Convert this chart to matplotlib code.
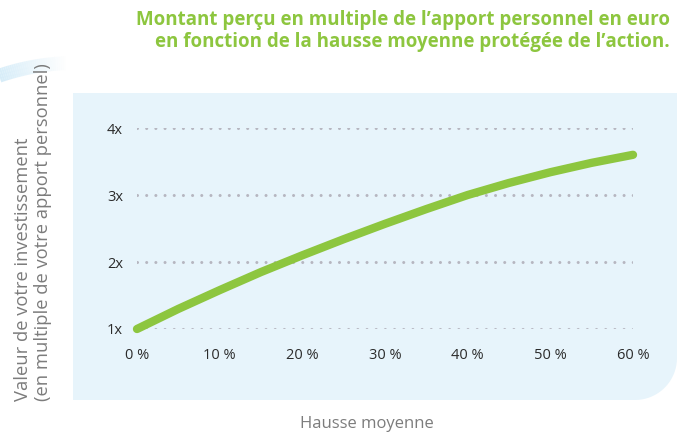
import matplotlib
matplotlib.use("Agg")
import matplotlib.pyplot as plt
import numpy as np
from matplotlib.patches import Polygon
from matplotlib.collections import LineCollection

# data
hausse = [0, 5, 10, 15, 20, 25, 30, 35, 40, 45, 50, 55, 60]
multiple = [1.0, 1.30, 1.58, 1.85, 2.10, 2.34, 2.57, 2.79, 3.00, 3.18, 3.34, 3.48, 3.60]
x_ticks = [0, 10, 20, 30, 40, 50, 60]
x_labels = [f"{v} %" for v in x_ticks]
y_ticks = [1, 2, 3, 4]
y_labels = [f"{v}x" for v in y_ticks]

title = ("Montant perçu en multiple de l’apport personnel en euro\n"
         "en fonction de la hausse moyenne protégée de l’action.")
ylabel = "Valeur de votre investissement\n(en multiple de votre apport personnel)"
xlabel = "Hausse moyenne"

green = "#8dc63f"
grey = "#7c7c7c"
panel = "#e7f4fb"

W, H = 681, 436
plt.rcParams['font.family'] = ['Open Sans', 'DejaVu Sans']
plt.rcParams['lines.scale_dashes'] = False

fig = plt.figure(figsize=(W / 100, H / 100), dpi=100)


def fx(px):
    return px / W


def fy(py):
    return 1 - py / H


# background panel with rounded bottom-right corner
r = 42
ang = np.linspace(0, np.pi / 2, 20)
corner = [(fx(677 - r + r * np.cos(a)), fy(400 - r + r * np.sin(a))) for a in ang]
verts = [(fx(73), fy(93)), (fx(677), fy(93))] + corner + [(fx(73), fy(400))]
fig.patches.append(Polygon(verts, closed=True, transform=fig.transFigure,
                           facecolor=panel, edgecolor="none", zorder=0))

# decorative swoosh top-left
t = np.linspace(np.pi * 0.62, np.pi * 0.51, 40)
cx, cy, rr = 75, 295, 232
px = cx + rr * np.cos(t)
py = cy - rr * np.sin(t)
pts = np.column_stack([fx(px), fy(py)])
segs = [pts[i:i + 2] for i in range(len(pts) - 1)]
alphas = np.linspace(0.9, 0.0, len(segs))
cols = [(0.80, 0.91, 0.97, a) for a in alphas]
fig.add_artist(LineCollection(segs, colors=cols, linewidths=10,
                              transform=fig.transFigure, zorder=1))

ax = fig.add_axes([fx(137), fy(329), (633 - 137) / W, (329 - 128) / H])
ax.set_zorder(2)
ax.set_facecolor("none")
ax.set_xlim(0, 60)
ax.set_ylim(1, 4)

ax.grid(True, axis="y", color="#b6b6c0", linewidth=2.2,
        linestyle=(0, (0.01, 6.6)), dash_capstyle="round")
ax.set_axisbelow(True)

ax.plot(hausse, multiple, color=green, linewidth=6, solid_capstyle="round",
        clip_on=False, zorder=3)

for s in ax.spines.values():
    s.set_visible(False)
ax.set_xticks(x_ticks)
ax.set_xticklabels(x_labels)
ax.set_yticks(y_ticks)
ax.set_yticklabels(y_labels)
ax.tick_params(length=0, labelsize=10.5, labelcolor="#2b2b2b")
ax.tick_params(axis="y", pad=10)
ax.tick_params(axis="x", pad=14)

fig.text(fx(670), fy(31), title, ha="right", va="center", color=green,
         fontsize=13.5, fontweight="bold", linespacing=1.15)
fig.text(fx(367), fy(424), xlabel, ha="center", va="center", color=grey,
         fontsize=12)
fig.text(fx(33), fy(401), ylabel, ha="center", va="bottom", rotation=90,
         color=grey, fontsize=13.2, linespacing=1.1, multialignment="left")

fig.savefig("out.png", dpi=100)
